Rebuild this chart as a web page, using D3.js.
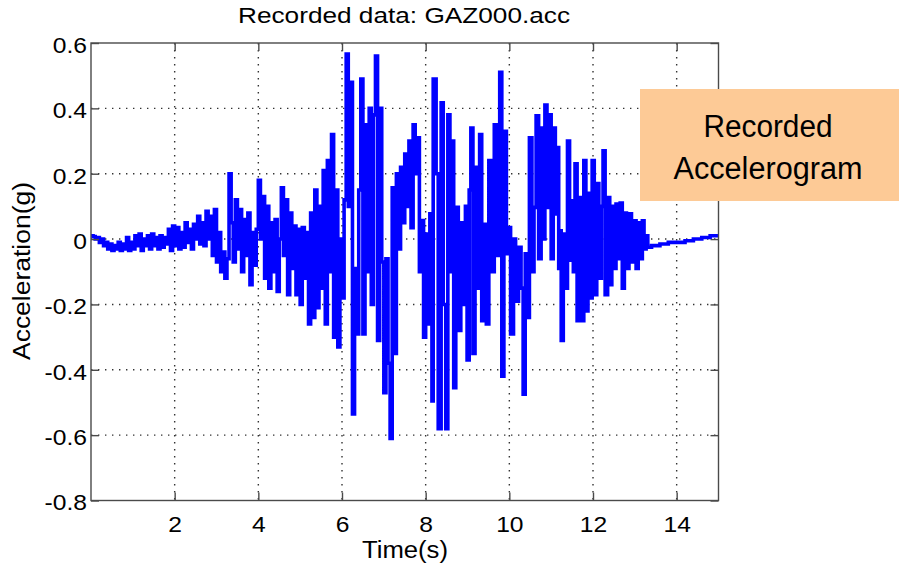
<!DOCTYPE html>
<html><head><meta charset="utf-8">
<script src="https://cdn.jsdelivr.net/npm/d3@7/dist/d3.min.js"></script>
<style>body{margin:0;background:#fff;}svg{display:block;font-family:"Liberation Sans",Arial,sans-serif;}</style>
</head><body><svg id="c" width="899" height="571"></svg>
<script>
const titleText = "Recorded data: GAZ000.acc";
const xLabel = "Time(s)";
const yLabel = "Acceleration(g)";
const boxLines = ["Recorded", "Accelerogram"];
const xTicks = [2,4,6,8,10,12,14];
const yTicks = [-0.8,-0.6,-0.4,-0.2,0,0.2,0.4,0.6];
const time = [0,0.05,0.10,0.15,0.20,0.25,0.30,0.35,0.40,0.45,0.50,0.55,0.60,0.65,0.70,0.75,0.80,0.85,0.90,0.95,
1.00,1.05,1.10,1.15,1.20,1.25,1.30,1.35,1.40,1.45,1.50,1.55,1.60,1.65,1.70,1.75,1.80,1.85,1.90,1.95,
2.00,2.05,2.10,2.15,2.20,2.25,2.30,2.35,2.40,2.45,2.50,2.55,2.60,2.65,2.70,2.75,2.80,2.85,2.90,2.95,
3.00,3.05,3.10,3.15,3.20,3.25,3.30,3.35,3.40,3.45,3.50,3.55,3.60,3.65,3.70,3.75,3.80,3.85,3.90,3.95,
4.00,4.05,4.10,4.15,4.20,4.25,4.30,4.35,4.40,4.45,4.50,4.55,4.60,4.65,4.70,4.75,4.80,4.85,4.90,4.95,
5.00,5.05,5.10,5.15,5.20,5.25,5.30,5.35,5.40,5.45,5.50,5.55,5.60,5.65,5.70,5.75,5.80,5.85,5.90,5.95,
6.00,6.05,6.10,6.15,6.20,6.25,6.30,6.35,6.40,6.45,6.50,6.55,6.60,6.65,6.70,6.75,6.80,6.85,6.90,6.95,
7.00,7.05,7.10,7.15,7.20,7.25,7.30,7.35,7.40,7.45,7.50,7.55,7.60,7.65,7.70,7.75,7.80,7.85,7.90,7.95,
8.00,8.05,8.10,8.15,8.18,8.25,8.30,8.37,8.42,8.48,8.53,8.58,8.62,8.67,8.72,8.78,8.84,8.90,8.95,8.99,
9.04,9.08,9.13,9.18,9.23,9.29,9.34,9.40,9.45,9.51,9.57,9.64,9.70,9.77,9.82,9.87,9.93,9.98,
10.03,10.10,10.15,10.22,10.28,10.33,10.38,10.43,10.48,10.54,10.59,10.64,10.70,10.76,10.81,10.85,10.90,10.95,
11.00,11.05,11.10,11.15,11.18,11.21,11.24,11.29,11.34,11.39,11.44,11.50,11.53,11.57,11.62,11.67,11.73,11.78,11.83,11.88,11.93,11.98,
12.03,12.09,12.14,12.20,12.24,12.29,12.35,12.40,12.45,12.50,12.55,12.60,12.65,12.70,12.75,12.80,12.86,12.92,12.97,
13.03,13.08,13.13,13.18,13.22,13.27,13.31,13.40,13.60,13.80,14.00,14.20,14.40,14.60,14.80,15.00];
const accel = [0.01,0.008,0.0,0.005,-0.01,0.0,-0.02,-0.01,-0.03,-0.015,-0.035,-0.02,-0.03,-0.01,-0.035,-0.015,-0.03,0.005,-0.035,-0.01,
-0.03,0.01,-0.02,0.015,-0.035,0.0,-0.02,0.01,-0.03,0.015,-0.02,0.005,-0.03,0.01,-0.025,0.005,-0.015,0.03,-0.035,0.04,
-0.02,0.035,-0.03,0.02,-0.025,0.05,-0.01,0.03,-0.03,0.045,0.0,0.07,-0.015,0.05,-0.02,0.085,0.0,0.07,-0.05,0.09,
-0.07,0.02,-0.10,-0.04,-0.12,-0.06,0.20,0.05,-0.07,0.12,-0.03,0.09,-0.10,0.06,-0.05,0.08,-0.14,0.02,-0.08,0.03,
0.18,0.0,0.13,-0.12,0.10,-0.15,0.05,-0.10,0.06,-0.16,0.0,0.157,-0.05,0.12,-0.17,0.08,-0.09,0.04,-0.17,0.03,
-0.20,0.035,-0.12,0.02,-0.26,0.08,-0.24,0.15,-0.21,0.10,-0.15,0.21,-0.26,0.24,-0.10,0.32,-0.30,0.15,-0.33,0.0,
-0.18,0.12,0.566,0.10,0.48,-0.535,-0.09,-0.29,0.15,0.49,-0.29,0.35,-0.10,0.40,-0.20,0.38,0.56,-0.31,0.40,-0.07,
-0.47,-0.06,-0.38,-0.61,0.157,-0.35,0.20,-0.03,0.22,0.05,0.26,0.10,0.30,0.035,0.35,0.20,0.31,-0.10,0.057,-0.30,
0.015,-0.26,0.077,-0.495,0.49,0.20,-0.58,0.417,-0.20,-0.58,0.38,-0.10,0.30,-0.455,0.097,-0.28,0.05,-0.20,0.10,-0.37,
0.15,0.34,-0.35,0.22,-0.15,0.32,-0.25,0.045,-0.26,0.24,-0.10,0.35,-0.05,0.51,-0.42,0.33,-0.045,0.035,
-0.29,0.0,-0.19,-0.025,-0.15,-0.475,-0.045,-0.24,0.31,-0.10,0.097,0.377,-0.06,0.34,0.0,0.41,0.097,0.38,
-0.06,0.34,0.077,0.28,-0.09,0.025,-0.31,0.015,-0.15,0.30,-0.065,0.117,-0.10,0.23,-0.25,0.127,-0.25,0.24,-0.22,0.14,-0.18,0.24,
-0.17,0.17,-0.12,0.10,0.27,-0.17,0.127,-0.14,0.10,-0.09,0.107,-0.06,0.11,-0.15,0.08,-0.09,0.077,-0.07,0.056,
-0.09,0.05,-0.06,0.056,-0.03,0.01,-0.025,-0.02,-0.015,-0.01,-0.01,-0.005,0.0,0.005,0.01,0.01];

const svg = d3.select("#c");
const L = 91, R = 718.5, T = 43, B = 500.5;
const x = d3.scaleLinear().domain([0,15]).range([L,R]);
const y = d3.scaleLinear().domain([-0.8,0.6]).range([B,T]);
const axisCol = "#4a4a4a";
function stretch(sel, f){ sel.each(function(){ const w=this.getComputedTextLength(); d3.select(this).attr("textLength",w*f).attr("lengthAdjust","spacingAndGlyphs"); }); }

// grid
const g = svg.append("g");
g.selectAll(".vg").data(xTicks).join("line")
  .attr("x1",d=>x(d)).attr("x2",d=>x(d)).attr("y1",T).attr("y2",B)
  .attr("stroke","#333").attr("stroke-width",1.4).attr("stroke-dasharray","1.4,5.6");
g.selectAll(".hg").data(yTicks.filter(v=>v>-0.8&&v<0.6)).join("line")
  .attr("x1",L).attr("x2",R).attr("y1",d=>y(d)).attr("y2",d=>y(d))
  .attr("stroke","#333").attr("stroke-width",1.4).attr("stroke-dasharray","1.4,5.6");

// data line
svg.append("clipPath").attr("id","clip").append("rect").attr("x",L).attr("y",T).attr("width",R-L).attr("height",B-T);
const pts = time.map((t,i)=>[t,accel[i]]);
svg.append("path").datum(pts).attr("clip-path","url(#clip)")
  .attr("d", d3.line().x(d=>x(d[0])).y(d=>y(d[1])).curve(d3.curveStepAfter))
  .attr("fill","none").attr("stroke","#0000ff").attr("stroke-width",3.6).attr("stroke-linejoin","miter");

// axes (inside ticks, box)
const fmtY = d => d===0 ? "0" : d3.format(".1f")(d).replace("\u2212","-");
const axB = d3.axisBottom(x).tickValues(xTicks).tickSize(-8).tickPadding(16).tickFormat(d3.format("d"));
const axT = d3.axisTop(x).tickValues(xTicks).tickSize(-8).tickFormat("");
const axL = d3.axisLeft(y).tickValues(yTicks).tickSize(-8).tickPadding(4).tickFormat(fmtY);
const axR = d3.axisRight(y).tickValues(yTicks).tickSize(-8).tickFormat("");
function style(sel){
  sel.selectAll(".tick line").attr("stroke",axisCol).attr("stroke-width",1.4);
  sel.selectAll(".tick text").attr("fill","#000").style("font-size","22px").style("font-family","'Liberation Sans',Arial,sans-serif");
}
svg.append("g").attr("transform",`translate(0,${B})`).call(axB).call(style);
svg.append("g").attr("transform",`translate(0,${T})`).call(axT).call(style);
const gl = svg.append("g").attr("transform",`translate(${L},0)`).call(axL).call(style);
gl.selectAll(".tick text").attr("dy","0.43em");
svg.append("g").attr("transform",`translate(${R},0)`).call(axR).call(style);
svg.selectAll(".domain").remove();
stretch(svg.selectAll(".tick text"), 1.12);
svg.append("rect").attr("x",L).attr("y",T).attr("width",R-L).attr("height",B-T)
  .attr("fill","none").attr("stroke",axisCol).attr("stroke-width",1.4);

// texts
svg.append("text").attr("x",404).attr("y",23).attr("text-anchor","middle")
  .style("font-size","22px").attr("textLength",332).attr("lengthAdjust","spacingAndGlyphs").text(titleText);
svg.append("text").attr("x",405).attr("y",558).attr("text-anchor","middle")
  .style("font-size","23px").attr("textLength",86).attr("lengthAdjust","spacingAndGlyphs").text(xLabel);
svg.append("text").attr("transform","translate(30,271) rotate(-90)").attr("text-anchor","middle")
  .style("font-size","23px").attr("textLength",178).attr("lengthAdjust","spacingAndGlyphs").text(yLabel);

// annotation box
svg.append("rect").attr("x",640).attr("y",89).attr("width",259).attr("height",112).attr("fill","#fdca96");
svg.selectAll(".bt").data(boxLines).join("text")
  .attr("x",768).attr("y",(d,i)=>137+i*42).attr("text-anchor","middle")
  .style("font-size","31px").attr("fill","#000")
  .attr("textLength",(d,i)=>i===0?129:189).attr("lengthAdjust","spacingAndGlyphs").text(d=>d);
</script></body></html>
